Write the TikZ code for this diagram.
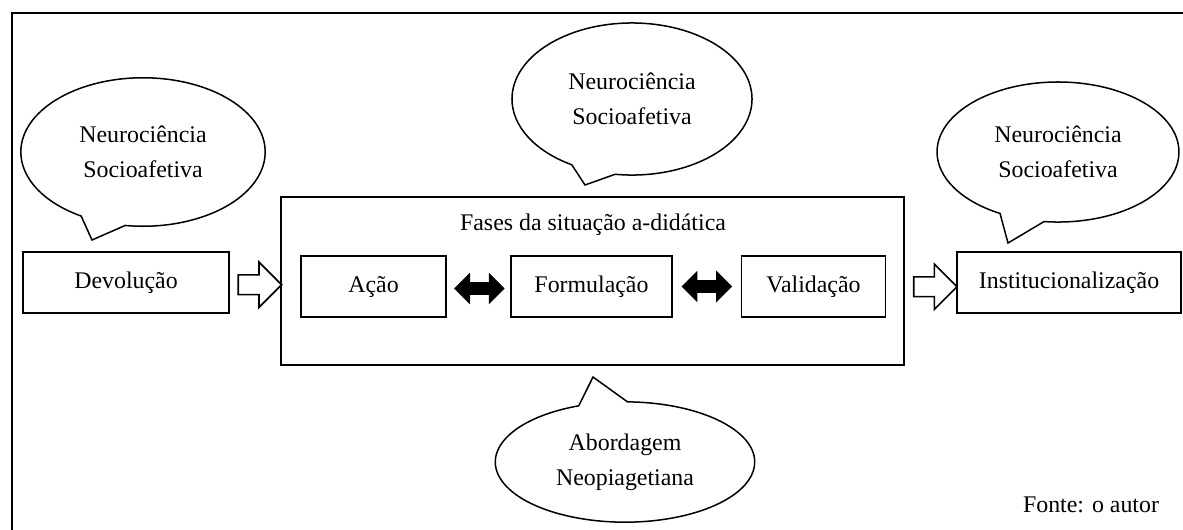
\documentclass[tikz,border=0pt]{standalone}
\usepackage{fontspec}
\setmainfont{Liberation Serif}
\usetikzlibrary{shapes.callouts,shapes.arrows,calc}

\tikzset{
  fase/.style={draw, line width=1pt, minimum height=32.5pt, inner sep=0pt},
  balao/.style={ellipse callout, draw, line width=0.8pt, inner sep=0pt,
    minimum width=130pt, minimum height=79pt, callout pointer arc=22,
    align=center, font=\fontsize{12.7}{18.6}\selectfont},
  passo/.style={single arrow, draw, line width=0.9pt, inner sep=4.8pt,
    minimum height=23pt, single arrow head extend=6.8pt},
  troca/.style={double arrow, draw, fill=black, line width=0.6pt, inner sep=2.8pt,
    minimum height=26pt, double arrow head extend=4.6pt}
}

\begin{document}
\begin{tikzpicture}[x=0.532pt, y=-0.532pt, font=\fontsize{12.7}{15}\selectfont]
\useasboundingbox (0,0) rectangle (1183,529);
\draw[line width=1.3pt] (12,13) rectangle (1200,545);

\node[fase, minimum width=109.6pt] (dev) at (126,282.5) {Devolução};
\node[draw, line width=1pt, minimum width=331.4pt, minimum height=89.4pt] (sit) at (592.5,281) {};
\node (tit) at (593,225) {Fases da situação a-didática};
\node[fase, minimum width=77.1pt] (acao) at (373.5,286.5) {Ação};
\node[fase, minimum width=85.7pt] (form) at (591.5,286.5) {Formulação};
\node[fase, minimum width=76.6pt] (val) at (813.5,286.5) {Validação};
\node[fase, minimum width=119.2pt] (inst) at (1069,282.5) {Institucionalização};

\node[passo] (p1) at ($(dev.east)!0.5!(sit.west)+(0,3)$) {};
\node[passo] (p2) at ($(sit.east)!0.5!(inst.west)+(0,5)$) {};
\node[troca] (t1) at ($(acao.east)!0.5!(form.west)+(1,2)$) {};
\node[troca] (t2) at ($(form.east)!0.5!(val.west)$) {};

\node[balao, callout absolute pointer={(92,240)}] (b1) at (143,152) {Neurociência\\Socioafetiva};
\node[balao, minimum width=127.7pt, minimum height=80.9pt,
  callout absolute pointer={(585,185)}] (b2) at (632,99) {Neurociência\\Socioafetiva};
\node[balao, minimum width=128.7pt, minimum height=74.5pt,
  callout absolute pointer={(1008,243)}] (b3) at (1058,152) {Neurociência\\Socioafetiva};
\node[balao, minimum width=138pt, minimum height=64pt,
  callout absolute pointer={(593,377)}] (b4) at (625,462) {Abordagem\\Neopiagetiana};

\node (fonte) at (1091,505) {Fonte: o autor};
\end{tikzpicture}
\end{document}
